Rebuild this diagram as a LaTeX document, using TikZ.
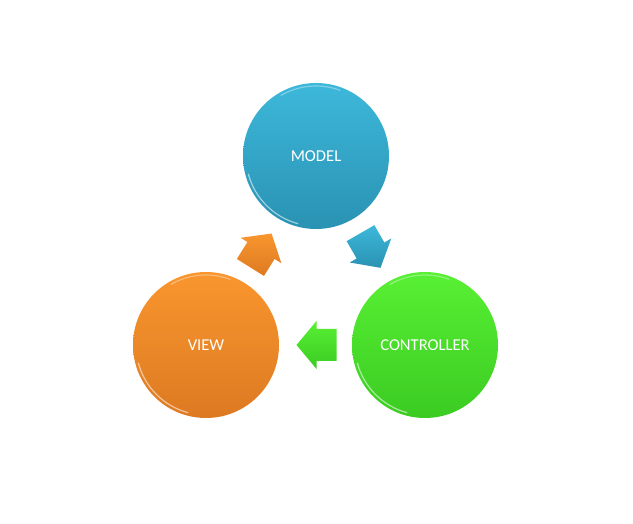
\documentclass[tikz,border=0pt]{standalone}
\usepackage{fontspec}
\setmainfont{Carlito}
\usetikzlibrary{calc}
\definecolor{bluetop}{HTML}{3DB8DA}
\definecolor{bluebot}{HTML}{2A92B3}
\definecolor{greentop}{HTML}{58F034}
\definecolor{greenbot}{HTML}{3BCB22}
\definecolor{orangetop}{HTML}{F9962E}
\definecolor{orangebot}{HTML}{DD7A22}
\tikzset{
    ball/.style={circle,minimum size=146pt,inner sep=0pt,text=white,font=\fontsize{16.6}{19}\selectfont},
    rim/.style={white,opacity=0.55,line width=1.2pt,line cap=round},
    blockarrow/.pic={
        \path[pic actions] (-20,16)--(0,16)--(0,24)--(20,0)--(0,-24)--(0,-16)--(-20,-16)--cycle;
    }
}
\begin{document}
\begin{tikzpicture}[x=1pt,y=1pt]
            \useasboundingbox (0,0) rectangle (633,524);

            \node[ball,top color=bluetop,bottom color=bluebot] (model) at (316,368) {MODEL};
            \node[ball,top color=orangetop,bottom color=orangebot] (view) at (206,179) {VIEW};
            \node[ball,top color=greentop,bottom color=greenbot] (controller) at (425,179) {CONTROLLER};

            \foreach \n in {model,view,controller}{
                \draw[rim] ($(\n.center)+(195:70)$) arc[start angle=195,end angle=255,radius=70];
                \draw[rim,opacity=0.35] ($(\n.center)+(70:70)$) arc[start angle=70,end angle=120,radius=70];
            }

            \pic[rotate=-60,top color=bluetop,bottom color=bluebot] at ($(model)!0.5!(controller)$) {blockarrow};
            \pic[rotate=180,top color=greentop,bottom color=greenbot] at ($(controller)!0.5!(view)+(1,0)$) {blockarrow};
            \pic[rotate=58,top color=orangetop,bottom color=orangebot] at ($(view)!0.5!(model)$) {blockarrow};
        \end{tikzpicture}
\end{document}
